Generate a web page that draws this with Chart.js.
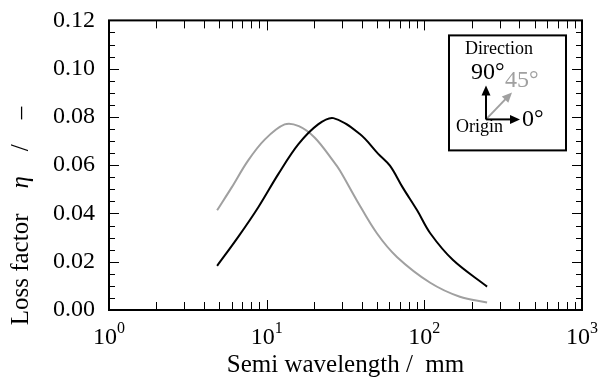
<!DOCTYPE html>
<html>
<head>
<meta charset="utf-8">
<script src="https://cdn.jsdelivr.net/npm/chart.js@4"></script>
<style>
  html, body { margin: 0; padding: 0; background: #fff; }
  #wrap { width: 603px; height: 380px; }
</style>
</head>
<body>
<div id="wrap"><canvas id="lossChart"></canvas></div>
<script>
// semi wavelength (mm) and loss factor
const blackX = [4.85, 6.6, 8.85, 11.85, 15.9, 21.2, 26.5, 39, 51, 60.5, 73, 90, 109, 152, 250];
const blackY = [0.0183, 0.0303, 0.0426, 0.0563, 0.0687, 0.0769, 0.0795, 0.0729, 0.0647, 0.0598, 0.0507, 0.0413, 0.0318, 0.0207, 0.0097];
const grayX = [4.85, 6, 7.6, 9.75, 13, 16, 20.2, 26.4, 29.2, 37.4, 50, 67, 109, 168, 250];
const grayY = [0.0413, 0.0508, 0.0618, 0.0707, 0.0769, 0.0762, 0.0714, 0.0618, 0.0577, 0.0453, 0.0318, 0.022, 0.0113, 0.0055, 0.0031];
const xTicks = [1, 10, 100, 1000];
const yTicks = [0, 0.02, 0.04, 0.06, 0.08, 0.10, 0.12];

const serif = "'Liberation Serif', 'DejaVu Serif', serif";

function toPoints(xs, ys) {
  return xs.map((x, i) => ({ x: x, y: ys[i] }));
}

// frame, inward ticks, y title and the little direction inset
const framePlugin = {
  id: 'frame',
  afterDraw(chart) {
    const ctx = chart.ctx;
    const a = chart.chartArea;
    const xs = chart.scales.x;
    const ys = chart.scales.y;
    ctx.save();
    ctx.strokeStyle = '#000';

    // minor + major ticks on x (log), top and bottom
    ctx.lineWidth = 1;
    for (let d = 1; d < 1000; d *= 10) {
      for (let k = 1; k <= 9; k++) {
        const px = Math.round(xs.getPixelForValue(d * k)) + 0.5;
        const len = k === 1 ? 10 : 8;
        ctx.beginPath();
        ctx.moveTo(px, a.bottom); ctx.lineTo(px, a.bottom - len);
        ctx.moveTo(px, a.top); ctx.lineTo(px, a.top + len);
        ctx.stroke();
      }
    }
    // y ticks left and right
    for (let i = 0; i <= 24; i++) {
      const v = i * 0.005;
      const py = Math.round(ys.getPixelForValue(v)) + 0.5;
      const len = i % 4 === 0 ? 10 : 6;
      ctx.beginPath();
      ctx.moveTo(a.left, py); ctx.lineTo(a.left + len, py);
      ctx.moveTo(a.right, py); ctx.lineTo(a.right - len, py);
      ctx.stroke();
    }

    // frame
    ctx.lineWidth = 2;
    ctx.strokeRect(a.left, a.top, a.right - a.left, a.bottom - a.top);

    // x tick labels with superscript exponents
    ctx.fillStyle = '#000';
    ctx.textBaseline = 'alphabetic';
    xTicks.forEach((t, i) => {
      const px = xs.getPixelForValue(t);
      ctx.font = '24px ' + serif;
      const w1 = ctx.measureText('10').width;
      ctx.font = '16px ' + serif;
      const w2 = ctx.measureText(String(i)).width;
      const left = px - (w1 + w2) / 2;
      ctx.font = '24px ' + serif;
      ctx.textAlign = 'left';
      ctx.fillText('10', left, a.bottom + 34);
      ctx.font = '16px ' + serif;
      ctx.fillText(String(i), left + w1, a.bottom + 23);
    });

    // y title, rotated, with italic eta
    const parts = [
      ['Loss factor', 'normal'],
      ['    ', 'normal'],
      ['\u03b7', 'italic'],
      ['    /    ', 'normal'],
      ['\u2013', 'normal']
    ];
    let total = 0;
    parts.forEach(p => {
      ctx.font = p[1] + ' 25px ' + serif;
      total += ctx.measureText(p[0]).width;
    });
    ctx.save();
    ctx.translate(28, 216);
    ctx.rotate(-Math.PI / 2);
    ctx.textAlign = 'left';
    let cx = -total / 2;
    parts.forEach(p => {
      ctx.font = p[1] + ' 25px ' + serif;
      ctx.fillText(p[0], cx, 0);
      cx += ctx.measureText(p[0]).width;
    });
    ctx.restore();

    // inset box
    const bx = a.right - 133, by = a.top + 15;
    ctx.lineWidth = 2;
    ctx.strokeStyle = '#000';
    ctx.fillStyle = '#fff';
    ctx.fillRect(bx, by, 117, 115);
    ctx.strokeRect(bx, by, 117, 115);

    const ox = bx + 37, oy = by + 84;
    function arrow(x2, y2, col) {
      const ang = Math.atan2(y2 - oy, x2 - ox);
      ctx.strokeStyle = col; ctx.fillStyle = col;
      ctx.lineWidth = 2;
      ctx.beginPath();
      ctx.moveTo(ox, oy);
      ctx.lineTo(x2 - 8 * Math.cos(ang), y2 - 8 * Math.sin(ang));
      ctx.stroke();
      ctx.beginPath();
      ctx.moveTo(x2, y2);
      ctx.lineTo(x2 - 10 * Math.cos(ang) + 4.5 * Math.sin(ang), y2 - 10 * Math.sin(ang) - 4.5 * Math.cos(ang));
      ctx.lineTo(x2 - 10 * Math.cos(ang) - 4.5 * Math.sin(ang), y2 - 10 * Math.sin(ang) + 4.5 * Math.cos(ang));
      ctx.closePath();
      ctx.fill();
    }
    arrow(bx + 63, by + 57, '#a0a0a0');
    arrow(ox, by + 50, '#000');
    arrow(bx + 71, oy, '#000');

    ctx.fillStyle = '#000';
    ctx.font = '18px ' + serif;
    ctx.textAlign = 'center';
    ctx.fillText('Direction', bx + 50, by + 19);
    ctx.textAlign = 'left';
    ctx.fillText('Origin', bx + 7, by + 97);
    ctx.font = '24px ' + serif;
    ctx.fillText('90\u00b0', bx + 22, by + 44);
    ctx.fillText('0\u00b0', bx + 73, by + 91);
    ctx.fillStyle = '#a0a0a0';
    ctx.fillText('45\u00b0', bx + 56, by + 52);
    ctx.restore();
  }
};

const ctx = document.getElementById('lossChart').getContext('2d');
new Chart(ctx, {
  type: 'scatter',
  data: {
    datasets: [
      {
        label: '0°',
        data: toPoints(blackX, blackY),
        showLine: true,
        borderColor: '#000',
        borderWidth: 2,
        pointRadius: 0,
        tension: 0.35
      },
      {
        label: '45°',
        data: toPoints(grayX, grayY),
        showLine: true,
        borderColor: '#a0a0a0',
        borderWidth: 2,
        pointRadius: 0,
        tension: 0.35
      }
    ]
  },
  plugins: [framePlugin],
  options: {
    responsive: true,
    maintainAspectRatio: false,
    animation: false,
    layout: { padding: { left: 0, top: 18, right: 21, bottom: 0 } },
    plugins: {
      legend: { display: false },
      tooltip: { enabled: false }
    },
    scales: {
      x: {
        type: 'logarithmic',
        min: 1,
        max: 1000,
        grid: { display: false },
        border: { display: false },
        afterBuildTicks: (s) => { s.ticks = xTicks.map(v => ({ value: v })); },
        afterFit: (s) => { s.height = 70; },
        ticks: { display: false },
        title: {
          display: true,
          text: 'Semi wavelength /  mm',
          font: { family: serif, size: 25 },
          color: '#000',
          padding: { top: 36, bottom: 0 }
        }
      },
      y: {
        min: 0,
        max: 0.12,
        grid: { display: false },
        border: { display: false },
        afterBuildTicks: (s) => { s.ticks = yTicks.map(v => ({ value: v })); },
        afterFit: (s) => { s.width = 109; },
        ticks: {
          color: '#000',
          padding: 6,
          font: { family: serif, size: 24 },
          callback: (v) => Number(v).toFixed(2)
        },
        title: { display: false }
      }
    }
  }
});
</script>
</body>
</html>
